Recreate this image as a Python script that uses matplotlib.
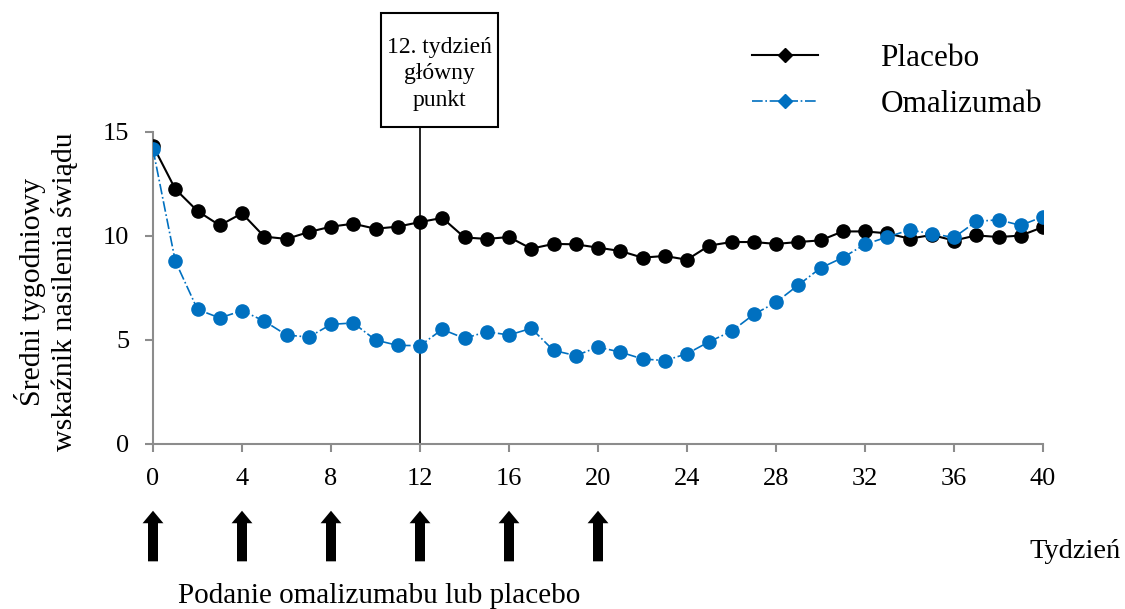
import matplotlib

matplotlib.use("Agg")

from matplotlib import pyplot as plt
from matplotlib.lines import Line2D
from matplotlib.patches import Rectangle

plt.rcParams["font.family"] = ["Liberation Serif", "DejaVu Serif"]

weeks = list(range(41))
placebo = [
    14.34, 12.26, 11.20, 10.51, 11.09, 9.97, 9.86, 10.19, 10.45, 10.59,
    10.35, 10.45, 10.67, 10.87, 9.93, 9.86, 9.95, 9.39, 9.62, 9.60,
    9.44, 9.28, 8.96, 9.04, 8.86, 9.54, 9.71, 9.71, 9.62, 9.71,
    9.79, 10.22, 10.22, 10.13, 9.87, 10.05, 9.78, 10.03, 9.95, 10.02,
    10.43,
]
omalizumab = [
    14.17, 8.80, 6.47, 6.06, 6.41, 5.91, 5.24, 5.14, 5.75, 5.82,
    5.00, 4.74, 4.73, 5.51, 5.08, 5.40, 5.24, 5.56, 4.50, 4.25,
    4.66, 4.42, 4.09, 4.01, 4.34, 4.92, 5.42, 6.23, 6.81, 7.64,
    8.46, 8.96, 9.60, 9.95, 10.29, 10.11, 9.93, 10.70, 10.78, 10.51,
    10.93,
]
dose_weeks = [0, 4, 8, 12, 16, 20]
x_ticks = [0, 4, 8, 12, 16, 20, 24, 28, 32, 36, 40]
y_ticks = [0, 5, 10, 15]
endpoint_week = 12

BLUE = "#0070C0"
GRAY = "#8c8c8c"

fig = plt.figure(figsize=(11.25, 6.09), dpi=100)
W, H = 1125, 609
ax = fig.add_axes([153 / W, 1 - 444 / H, (1043 - 153) / W, (444 - 132) / H])

ax.plot(weeks, placebo, color="black", linewidth=1.5, marker="o",
        markersize=9.5, zorder=3)
ax.plot(weeks, omalizumab, color=BLUE, linewidth=1.2, linestyle="-.",
        marker="o", markersize=9.5, zorder=4)

ax.set_xlim(0, 40)
ax.set_ylim(0, 15)
ax.set_xticks(x_ticks)
ax.set_yticks(y_ticks)
for side in ["top", "right"]:
    ax.spines[side].set_visible(False)
for side in ["left", "bottom"]:
    ax.spines[side].set_color(GRAY)
    ax.spines[side].set_linewidth(1.5)
ax.tick_params(axis="both", colors=GRAY, width=1.5, length=6, labelsize=19,
               labelcolor="black")
ax.tick_params(axis="x", pad=11)
ax.tick_params(axis="y", pad=11)

# primary endpoint marker: line up to a box above the axes
ax.axvline(endpoint_week, ymin=0, ymax=(444 - 127) / (444 - 132),
           color="black", linewidth=1.2, clip_on=False, zorder=2)
fig.patches.append(Rectangle((381 / W, 1 - 127 / H), (498 - 381) / W,
                             (127 - 13) / H, transform=fig.transFigure,
                             facecolor="white", edgecolor="black",
                             linewidth=1.5))
fig.text(439.5 / W, 1 - 74 / H, "12. tydzień\ngłówny\npunkt", ha="center",
         va="center", fontsize=17, linespacing=1.35)

# dosing arrows below the axis
for d in dose_weeks:
    ax.annotate("", xy=(d, -0.205), xytext=(d, -0.385),
                xycoords=ax.get_xaxis_transform(),
                textcoords=ax.get_xaxis_transform(),
                annotation_clip=False,
                arrowprops=dict(arrowstyle="simple,head_width=0.75,head_length=0.45,tail_width=0.36",
                                mutation_scale=20, facecolor="black",
                                edgecolor="black", linewidth=0))

fig.text(46 / W, 1 - 292 / H, "Średni tygodniowy\nwskaźnik nasilenia świądu",
         rotation=90, ha="center", va="center", fontsize=21.5, linespacing=1.2)
fig.text(1075 / W, 1 - 552 / H, "Tydzień", ha="center", va="center",
         fontsize=20.5)
fig.text(379 / W, 1 - 596 / H, "Podanie omalizumabu lub placebo",
         ha="center", va="center", fontsize=21)

handles = [
    Line2D([], [], color="black", linewidth=1.5, marker="D", markersize=7),
    Line2D([], [], color=BLUE, linewidth=1.2, linestyle="-.", marker="D",
           markersize=7),
]
fig.legend(handles, ["Placebo", "Omalizumab"], loc="upper left",
           bbox_to_anchor=(724 / W, 1 - 16 / H), frameon=False, fontsize=22.5,
           handlelength=2.1, handletextpad=2.0, labelspacing=0.55)

fig.savefig("out.png", dpi=100)
